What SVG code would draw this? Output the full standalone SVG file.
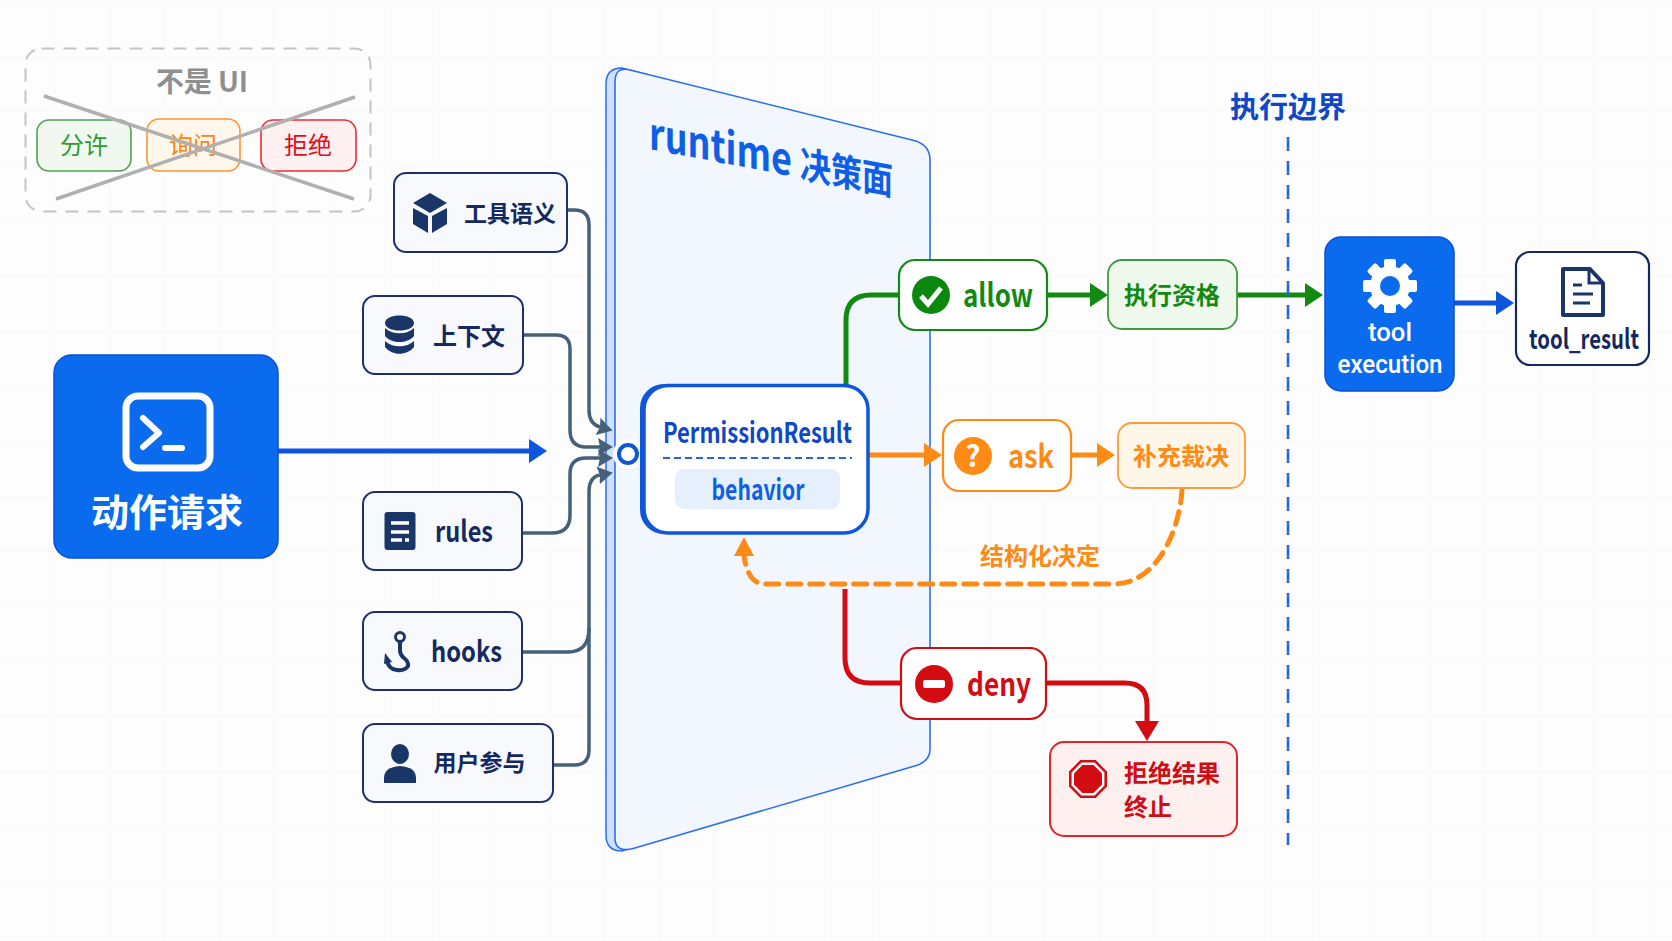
<svg xmlns="http://www.w3.org/2000/svg" width="1672" height="941" viewBox="0 0 1672 941">
<style>
text{font-family:"Noto Sans CJK SC","Noto Sans",sans-serif;font-weight:700}
.r{font-weight:400}
.c{text-anchor:middle}
.navy{fill:#14295f}
.src{fill:#f8f9fd;stroke:#1d2f6f;stroke-width:2}
.icon{fill:#1a3668}
.pill{stroke-width:1.6}
.gc{fill:none;stroke:#46607a;stroke-width:3.5;marker-end:url(#mGrey)}
.gn{fill:none;stroke:#46607a;stroke-width:3.5}
.flow{fill:none;stroke-width:5}
.tx{font-family:Roboto,"Noto Sans",sans-serif;font-weight:500}
</style>
<defs>
<pattern id="grid" width="55" height="55" patternUnits="userSpaceOnUse" x="0" y="2">
<path d="M55 0V55M0 55H55" fill="none" stroke="#f3f5f8" stroke-width="1"/>
</pattern>
<marker id="mGrey" markerUnits="userSpaceOnUse" viewBox="0 0 15 18" markerWidth="15" markerHeight="18" refX="2" refY="9" orient="auto"><path d="M0 0L15 9L0 18L2 9Z" fill="#46607a"/></marker>
<marker id="mBlue" markerUnits="userSpaceOnUse" viewBox="0 0 18 24" markerWidth="18" markerHeight="24" refX="2" refY="12" orient="auto"><path d="M0 0L18 12L0 24Z" fill="#0d55dc"/></marker>
<marker id="mGreen" markerUnits="userSpaceOnUse" viewBox="0 0 18 24" markerWidth="18" markerHeight="24" refX="2" refY="12" orient="auto"><path d="M0 0L18 12L0 24Z" fill="#128a12"/></marker>
<marker id="mOrange" markerUnits="userSpaceOnUse" viewBox="0 0 18 24" markerWidth="18" markerHeight="24" refX="2" refY="12" orient="auto"><path d="M0 0L18 12L0 24Z" fill="#ff8a14"/></marker>
<marker id="mRed" markerUnits="userSpaceOnUse" viewBox="0 0 20 24" markerWidth="20" markerHeight="24" refX="2" refY="12" orient="auto"><path d="M0 0L20 12L0 24Z" fill="#d30c12"/></marker>
</defs>
<rect width="1672" height="941" fill="#fdfdfe"/>
<rect width="1672" height="941" fill="url(#grid)"/>

<g id="not-ui">
<rect x="25.5" y="48.5" width="345" height="163" rx="16" fill="none" stroke="#c4c4c4" stroke-width="2" stroke-dasharray="13 9"/>
<text x="202" y="92" class="c" font-size="28" fill="#8f8f8f" textLength="92" lengthAdjust="spacing">不是 UI</text>
<rect class="pill" x="37" y="120" width="94" height="51" rx="12" fill="#f0f8f0" stroke="#4da24d"/>
<text x="84" y="154" class="c r" font-size="24" fill="#2f9a2f">分许</text>
<rect class="pill" x="147" y="119" width="93" height="52" rx="12" fill="#fff7ec" stroke="#ff9330"/>
<text x="193" y="154" class="c r" font-size="24" fill="#ff8412">询问</text>
<rect class="pill" x="261" y="120" width="95" height="51" rx="12" fill="#fff0f1" stroke="#ee2a33"/>
<text x="308" y="154" class="c r" font-size="24" fill="#df0f16">拒绝</text>
<path d="M44 96L354 199M56 199L355 97" fill="none" stroke="#b0b0b0" stroke-width="3.5"/>
</g>

<g id="runtime-panel">
<path d="M606 84Q606 68 622 68L645 74V843L622 851Q606 851 606 835Z" fill="#cfe0ff" stroke="#2b6ff0" stroke-width="1.5"/>
<path d="M615 82Q615 66 630 70L916 141Q930 146 930 160V750Q930 760 918 765L635 848Q615 854 615 838Z" fill="#f2f6fe" stroke="#2b6ff0" stroke-width="1.6"/>
<text transform="matrix(1 .19 0 1 649 149)" font-size="44" fill="#0f5fe6" textLength="244" lengthAdjust="spacingAndGlyphs">runtime <tspan font-size="38">决策面</tspan></text>
</g>

<g id="connectors">
<path class="gc" d="M567 210H574Q589 210 589 225V410Q589 424 600 427"/>
<path class="gc" d="M523 335H556Q570 335 570 349V430Q570 447 586 447H600"/>
<path class="gc" d="M522 533H552Q570 533 570 515V474Q570 458 586 458H600"/>
<path class="gn" d="M522 652H568Q589 652 589 628"/>
<path class="gc" d="M553 765H574Q589 765 589 750V492Q589 477 600 475"/>
<path class="flow" stroke="#0d55dc" d="M278 451H531" marker-end="url(#mBlue)"/>
<path class="flow" stroke="#128a12" d="M846 386V320Q846 295 871 295H900"/>
<path class="flow" stroke="#128a12" d="M1047 295H1092" marker-end="url(#mGreen)"/>
<path class="flow" stroke="#128a12" d="M1237 295H1307" marker-end="url(#mGreen)"/>
<path class="flow" stroke="#0d55dc" d="M1454 303H1498" marker-end="url(#mBlue)"/>
<path class="flow" stroke="#ff8a14" d="M869 455H926" marker-end="url(#mOrange)"/>
<path class="flow" stroke="#ff8a14" d="M1071 455H1099" marker-end="url(#mOrange)"/>
<path class="flow" stroke="#ff8a14" stroke-dasharray="13 9" stroke-linecap="round" d="M1182 490C1180 525 1160 584 1113 584H765Q748 584 744 556"/>
<path d="M744 537L754 556H734Z" fill="#ff8a14"/>
<path class="flow" stroke="#d30c12" d="M845 589V658Q845 683 870 683H902"/>
<path class="flow" stroke="#d30c12" d="M1046 683H1125Q1147 683 1147 705V723" marker-end="url(#mRed)"/>
<path d="M1288 137V845" fill="none" stroke="#1d66e0" stroke-width="2.5" stroke-dasharray="14 10"/>
</g>

<g id="action-request">
<rect x="54" y="355" width="224" height="203" rx="18" fill="#0b6bef" stroke="#0a4fd8" stroke-width="1.5"/>
<rect x="126" y="396" width="84" height="72" rx="12" fill="none" stroke="#fff" stroke-width="7"/>
<path d="M143 418L159 433L143 447" fill="none" stroke="#fff" stroke-width="6" stroke-linecap="round" stroke-linejoin="round"/>
<path d="M165 448H182" stroke="#fff" stroke-width="6" stroke-linecap="round"/>
<text x="167" y="526" class="c" font-size="38" fill="#fff">动作请求</text>
</g>

<g id="tool-semantics">
<rect class="src" x="394" y="173" width="173" height="79" rx="12"/>
<path class="icon" d="M430 193L447 203L430 213L413 203ZM413 208L428 216V233L413 224ZM447 208L432 216V233L447 224Z"/>
<text x="510" y="222" class="c navy" font-size="23">工具语义</text>
</g>
<g id="context">
<rect class="src" x="363" y="296" width="160" height="78" rx="12"/>
<path class="icon" d="M385 323C385 313 414 313 414 323C414 333 385 333 385 323ZM385 328C392 335 407 335 414 328V336C407 344 392 344 385 336ZM385 341C392 348 407 348 414 341V347C407 356 392 356 385 347Z"/>
<text x="469" y="345" class="c navy" font-size="24">上下文</text>
</g>
<g id="rules">
<rect class="src" x="363" y="492" width="159" height="78" rx="12"/>
<rect class="icon" x="384.500" y="512" width="31" height="38" rx="3"/>
<path d="M391 523H409M391 532H409M391 540H402M405 540H409" stroke="#fff" stroke-width="3.5" fill="none"/>
<text x="435" y="542" class="navy" font-size="29" textLength="58" lengthAdjust="spacingAndGlyphs">rules</text>
</g>
<g id="hooks">
<rect class="src" x="363" y="612" width="159" height="78" rx="12"/>
<circle cx="400" cy="637" r="4.500" fill="none" stroke="#1a3668" stroke-width="3"/>
<path d="M400 642V650Q400 655 404 658Q409 662 408 666Q405 671 397 670Q388 669 387 660" fill="none" stroke="#1a3668" stroke-width="4"/>
<path d="M385 653L392 662L384 664Z" fill="#1a3668"/>
<text x="431" y="662" class="navy" font-size="29" textLength="71" lengthAdjust="spacingAndGlyphs">hooks</text>
</g>
<g id="user-participation">
<rect class="src" x="363" y="724" width="190" height="78" rx="12"/>
<ellipse class="icon" cx="400" cy="754" rx="9" ry="10"/>
<path class="icon" d="M384 783V778Q384 767 400 766Q416 767 416 778V783Z"/>
<text x="479.500" y="771" class="c navy" font-size="23">用户参与</text>
</g>

<g id="junction">
<circle cx="628" cy="454" r="15" fill="#fff"/>
<circle cx="628" cy="454" r="9" fill="#fff" stroke="#0f56d8" stroke-width="4"/>
</g>

<g id="permission-result">
<rect x="640" y="384" width="225" height="150" rx="24" fill="#0f56d8"/>
<rect x="644" y="385.500" width="224" height="147.500" rx="24" fill="#fff" stroke="#0f56d8" stroke-width="3.500"/>
<text x="663" y="443" font-size="28" fill="#0f47c8" textLength="189" lengthAdjust="spacingAndGlyphs">PermissionResult</text>
<path d="M663 458H852" stroke="#2b62e0" stroke-width="2" stroke-dasharray="7 4" fill="none"/>
<rect x="675" y="469" width="165" height="40" rx="9" fill="#e6effd"/>
<text x="758" y="500" class="c" font-size="28" fill="#0f5fe6" textLength="93" lengthAdjust="spacingAndGlyphs">behavior</text>
</g>

<g id="allow">
<rect x="899" y="260" width="148" height="70" rx="16" fill="#fff" stroke="#128a12" stroke-width="2.200"/>
<circle cx="931" cy="295" r="19" fill="#0d880f"/>
<path d="M921 296L928 304L941 288" fill="none" stroke="#fff" stroke-width="5"/>
<text x="963" y="307" font-size="32" fill="#128a12" textLength="70" lengthAdjust="spacingAndGlyphs">allow</text>
</g>
<g id="exec-qualification">
<rect x="1108" y="260" width="129" height="69" rx="14" fill="#eff8ed" stroke="#3f9a40" stroke-width="1.800"/>
<text x="1172" y="304" class="c" font-size="24" fill="#128a12">执行资格</text>
</g>
<g id="ask">
<rect x="943" y="420" width="128" height="71" rx="16" fill="#fff" stroke="#ff8a14" stroke-width="2.200"/>
<circle cx="973" cy="456" r="19" fill="#ff8a14"/>
<text x="973" y="467" class="c" font-size="29" fill="#fff">?</text>
<text x="1008" y="468" font-size="32" fill="#ff8a14" textLength="46" lengthAdjust="spacingAndGlyphs">ask</text>
</g>
<g id="supplement">
<rect x="1118" y="423" width="127" height="65" rx="14" fill="#fff6ea" stroke="#ff9a3a" stroke-width="1.800"/>
<text x="1181" y="465" class="c" font-size="24" fill="#ff8a14">补充裁决</text>
</g>
<text id="structured-label" x="1040" y="565" class="c" font-size="24" fill="#ff8a14">结构化决定</text>
<g id="deny">
<rect x="901" y="648" width="145" height="71" rx="16" fill="#fff" stroke="#d30c12" stroke-width="2.200"/>
<circle cx="934" cy="684" r="19" fill="#d30c12"/>
<rect x="923" y="680" width="22" height="8" rx="2" fill="#fff"/>
<text x="967" y="696" font-size="32" fill="#d30c12" textLength="64" lengthAdjust="spacingAndGlyphs">deny</text>
</g>
<g id="deny-result">
<rect x="1050" y="742" width="187" height="94" rx="14" fill="#fff0f0" stroke="#e3242b" stroke-width="2"/>
<polygon points="1080,759 1096,759 1108,771 1108,787 1096,799 1080,799 1068,787 1068,771" fill="#d30c12" transform="translate(1088 779) scale(.95) translate(-1088 -779)"/>
<polygon points="1080,759 1096,759 1108,771 1108,787 1096,799 1080,799 1068,787 1068,771" fill="#fff" transform="translate(1088 779) scale(.82) translate(-1088 -779)"/>
<polygon points="1080,759 1096,759 1108,771 1108,787 1096,799 1080,799 1068,787 1068,771" fill="#d30c12" transform="translate(1088 779) scale(.7) translate(-1088 -779)"/>
<text x="1124" y="782" font-size="24" fill="#cf0d14">拒绝结果</text>
<text x="1124" y="816" font-size="24" fill="#cf0d14">终止</text>
</g>

<text id="exec-boundary-label" x="1288" y="118" class="c" font-size="29" fill="#0f47c8">执行边界</text>

<g id="tool-execution">
<rect x="1325" y="237" width="129" height="154" rx="16" fill="#0b6bef" stroke="#0a4fd8" stroke-width="1.500"/>
<g fill="#fff" transform="translate(1390 286)">
<circle r="20"/>
<rect x="-6" y="-27" width="12" height="54" rx="2"/>
<rect x="-6" y="-27" width="12" height="54" rx="2" transform="rotate(45)"/>
<rect x="-6" y="-27" width="12" height="54" rx="2" transform="rotate(90)"/>
<rect x="-6" y="-27" width="12" height="54" rx="2" transform="rotate(135)"/>
<circle r="10" fill="#0b6bef"/>
</g>
<text x="1390" y="341" class="c tx" font-size="26" fill="#fff" textLength="44" lengthAdjust="spacingAndGlyphs">tool</text>
<text x="1390" y="373" class="c tx" font-size="26" fill="#fff" textLength="105" lengthAdjust="spacingAndGlyphs">execution</text>
</g>
<g id="tool-result">
<rect x="1516" y="252" width="133" height="113" rx="14" fill="#fff" stroke="#14295f" stroke-width="2.200"/>
<path d="M1563 269H1590L1603 283V315H1563Z" fill="#fff" stroke="#1a3668" stroke-width="4" stroke-linejoin="round"/>
<path d="M1589 269V283H1603" fill="none" stroke="#1a3668" stroke-width="3"/>
<path d="M1573 285H1582M1573 294H1593M1573 303H1590" stroke="#1a3668" stroke-width="3" fill="none"/>
<text x="1529" y="349" class="navy" font-size="27" textLength="110" lengthAdjust="spacingAndGlyphs">tool_result</text>
</g>
</svg>
